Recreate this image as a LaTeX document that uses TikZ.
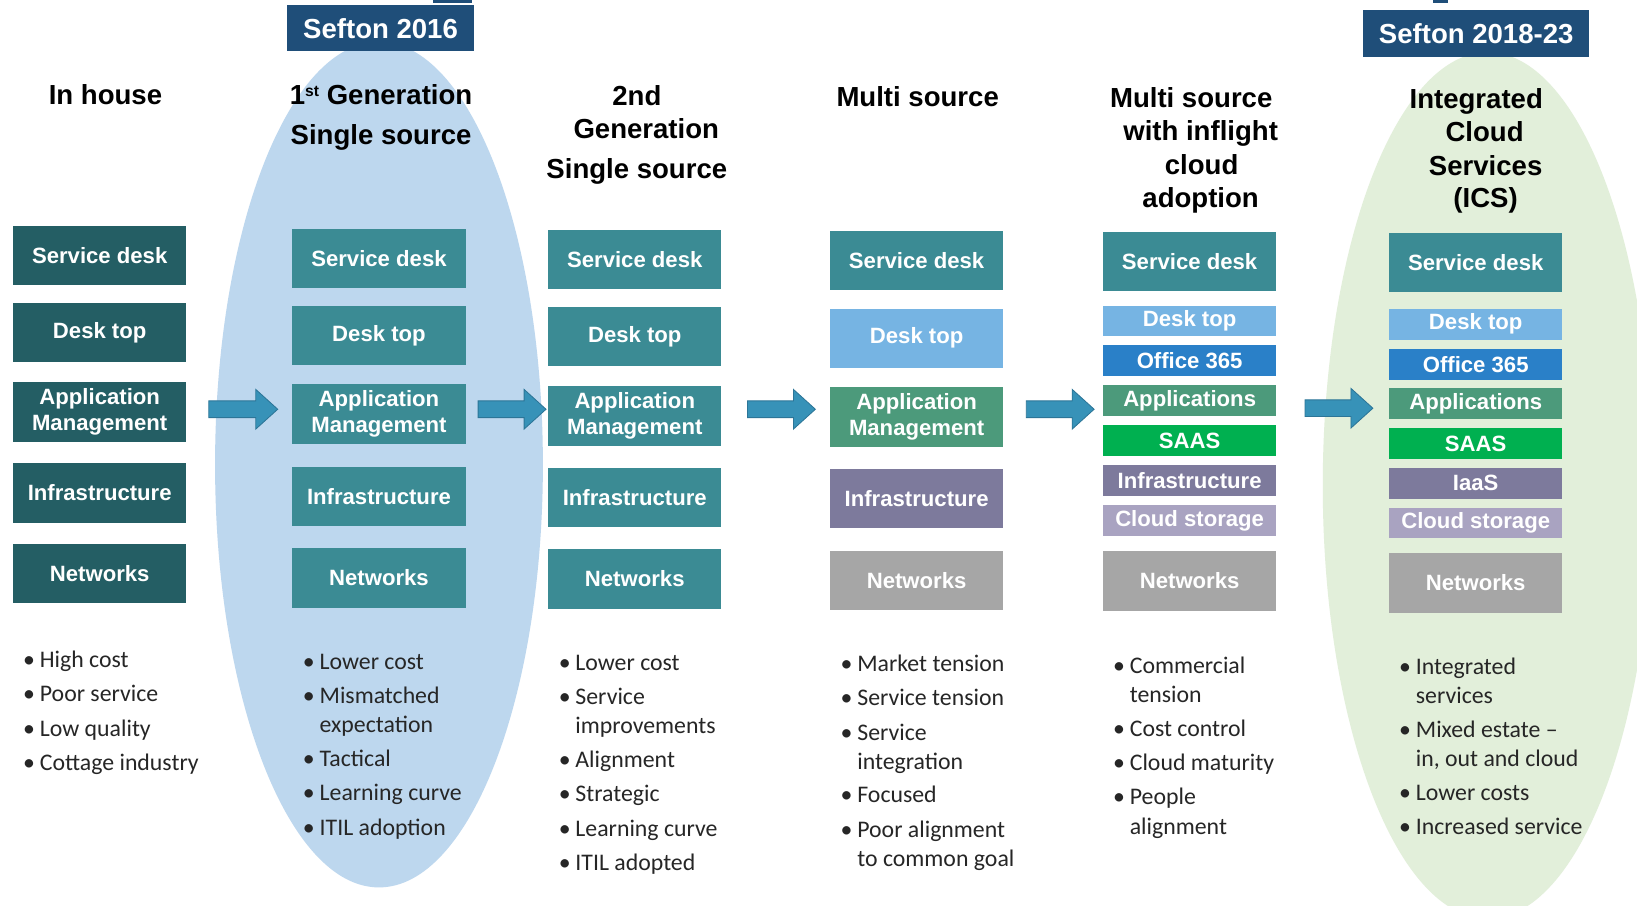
\documentclass[tikz,border=0pt]{standalone}
\usepackage{fontspec}
\setmainfont{Liberation Sans}
\newfontfamily\calfont{Carlito}
\usetikzlibrary{positioning}
\definecolor{bannerc}{HTML}{1F4E79}
\definecolor{dteal}{HTML}{245E64}
\definecolor{teal}{HTML}{3B8B94}
\definecolor{lblue}{HTML}{76B4E3}
\definecolor{oblue}{HTML}{2A80C8}
\definecolor{appg}{HTML}{4C9A7B}
\definecolor{saasg}{HTML}{00B050}
\definecolor{purp}{HTML}{7D7A9C}
\definecolor{lpurp}{HTML}{A9A3C1}
\definecolor{greyc}{HTML}{A6A6A6}
\definecolor{ellb}{HTML}{BDD7EE}
\definecolor{ellg}{HTML}{E2EFDA}
\definecolor{arrc}{HTML}{3792B8}
\definecolor{arrd}{HTML}{2C7597}
\definecolor{bultxt}{HTML}{262626}
\tikzset{
  bx/.style={rectangle, minimum width=166pt, minimum height=57pt, inner sep=0pt,
    text=white, align=center, font=\bfseries\fontsize{21.2}{24}\selectfont},
  sbx/.style={bx, minimum height=29.5pt},
  head/.style={anchor=base, inner sep=0pt, font=\bfseries\fontsize{26.4}{30}\selectfont},
  banner/.style={rectangle, fill=bannerc, text=white, inner sep=0pt,
    font=\bfseries\fontsize{26.4}{30}\selectfont},
  bul/.style={anchor=base west, inner sep=0pt, text=bultxt, font=\calfont\fontsize{22.8}{26}\selectfont},
  blockarr/.style={fill=arrc, draw=arrd, line width=0.8pt}
}
\newcommand\blockarrow[3]{% x0 x1 yc
  \fill[blockarr] (#1,#3-8) -- (#2-21,#3-8) -- (#2-21,#3-19) -- (#2,#3) -- (#2-21,#3+19)
   -- (#2-21,#3+8) -- (#1,#3+8) -- cycle;}
\newcommand\bitem[4]{% bx tx y text
  \node[bul] at (#1,#3+7) {\textbullet};
  \node[bul] at (#2,#3+7) {#4};}
\begin{document}
\begin{tikzpicture}[x=1pt,y=-1pt]
\useasboundingbox[fill=white] (0,0) rectangle (1568,866.9);
% ellipses
\fill[ellb] (363,445) ellipse [x radius=157, y radius=405];
\fill[ellg] (1425,465) ellipse [x radius=158, y radius=415];
% tiny fragments at the top edge
\fill[bannerc] (415,0) rectangle (452,3);
\fill[bannerc] (1373,0) rectangle (1387,2.5);
% banners
\node[banner, minimum width=179pt, minimum height=44pt] (b1) at (364.5,27) {Sefton 2016};
\node[banner, minimum width=216pt, minimum height=45pt] (b2) at (1414,32.5) {Sefton 2018-23};
% headings
\node[head] (h1) at (101,100) {In house};
\node[head] (h2a) at (365,100) {1\raisebox{8pt}{\fontsize{15}{15}\selectfont st} Generation};
\node[head] (h2b) at (365,138) {Single source};
\node[head] (h3a) at (610,101) {2nd};
\node[head] (h3b) at (619,133) {Generation};
\node[head] (h3c) at (610,171) {Single source};
\node[head] (h4) at (879,102) {Multi source};
\node[head] (h5a) at (1141,103) {Multi source};
\node[head] (h5b) at (1150,135) {with inflight};
\node[head] (h5c) at (1151,167) {cloud};
\node[head] (h5d) at (1150,199) {adoption};
\node[head] (h6a) at (1414,104) {Integrated};
\node[head] (h6b) at (1422,136) {Cloud};
\node[head] (h6c) at (1423,168) {Services};
\node[head] (h6d) at (1423,199) {(ICS)};
% column 1
\node[bx, fill=dteal] (a1) at (95.5,244.5) {Service desk};
\node[bx, fill=dteal] (a2) at (95.5,318.5) {Desk top};
\node[bx, fill=dteal] (a3) at (95.5,394.5) {Application\\[1pt]Management};
\node[bx, fill=dteal] (a4) at (95.5,472) {Infrastructure};
\node[bx, fill=dteal] (a5) at (95.5,549.5) {Networks};
% column 2
\node[bx, fill=teal] (b1a) at (363,247.5) {Service desk};
\node[bx, fill=teal] (b2a) at (363,321.5) {Desk top};
\node[bx, fill=teal] (b3a) at (363,396.5) {Application\\[1pt]Management};
\node[bx, fill=teal] (b4a) at (363,475.5) {Infrastructure};
\node[bx, fill=teal] (b5a) at (363,553.5) {Networks};
% column 3
\node[bx, fill=teal] (c1) at (608,248.5) {Service desk};
\node[bx, fill=teal] (c2) at (608,322.5) {Desk top};
\node[bx, fill=teal] (c3) at (608,398.5) {Application\\[1pt]Management};
\node[bx, fill=teal] (c4) at (608,476.5) {Infrastructure};
\node[bx, fill=teal] (c5) at (608,554.5) {Networks};
% column 4
\node[bx, fill=teal] (d1) at (878,249.5) {Service desk};
\node[bx, fill=lblue] (d2) at (878,324) {Desk top};
\node[bx, fill=appg] (d3) at (878,399.5) {Application\\[1pt]Management};
\node[bx, fill=purp] (d4) at (878,477.5) {Infrastructure};
\node[bx, fill=greyc] (d5) at (878,556) {Networks};
% column 5
\node[bx, fill=teal] (e1) at (1139.5,250.5) {Service desk};
\node[sbx, fill=lblue] (e2) at (1139.5,307.5) {Desk top};
\node[sbx, fill=oblue] (e3) at (1139.5,345.5) {Office 365};
\node[sbx, fill=appg] (e4) at (1139.5,383.5) {Applications};
\node[sbx, fill=saasg] (e5) at (1139.5,422) {SAAS};
\node[sbx, fill=purp] (e6) at (1139.5,460.5) {Infrastructure};
\node[sbx, fill=lpurp] (e7) at (1139.5,498.5) {Cloud storage};
\node[bx, fill=greyc] (e8) at (1139.5,556.5) {Networks};
% column 6
\node[bx, fill=teal] (f1) at (1413.5,251.5) {Service desk};
\node[sbx, fill=lblue] (f2) at (1413.5,310.5) {Desk top};
\node[sbx, fill=oblue] (f3) at (1413.5,349) {Office 365};
\node[sbx, fill=appg] (f4) at (1413.5,386.5) {Applications};
\node[sbx, fill=saasg] (f5) at (1413.5,425) {SAAS};
\node[sbx, fill=purp] (f6) at (1413.5,463) {IaaS};
\node[sbx, fill=lpurp] (f7) at (1413.5,501) {Cloud storage};
\node[bx, fill=greyc] (f8) at (1413.5,558.5) {Networks};
% arrows
\blockarrow{200}{266}{392}
\blockarrow{458}{523}{392}
\blockarrow{716}{781}{392}
\blockarrow{983}{1048}{392}
\blockarrow{1250}{1315}{391}
% bullets column 1
\bitem{22}{38}{632}{High cost}
\bitem{22}{38}{665}{Poor service}
\bitem{22}{38}{698}{Low quality}
\bitem{22}{38}{731}{Cottage industry}
% column 2
\bitem{290}{306}{634}{Lower cost}
\bitem{290}{306}{667}{Mismatched}
\node[bul] at (306,702) {expectation};
\bitem{290}{306}{727}{Tactical}
\bitem{290}{306}{760}{Learning curve}
\bitem{290}{306}{793}{ITIL adoption}
% column 3
\bitem{535}{551}{635}{Lower cost}
\bitem{535}{551}{668}{Service}
\node[bul] at (551,703) {improvements};
\bitem{535}{551}{728}{Alignment}
\bitem{535}{551}{761}{Strategic}
\bitem{535}{551}{794}{Learning curve}
\bitem{535}{551}{827}{ITIL adopted}
% column 4
\bitem{805}{821}{636}{Market tension}
\bitem{805}{821}{669}{Service tension}
\bitem{805}{821}{702}{Service}
\node[bul] at (821,737) {integration};
\bitem{805}{821}{762}{Focused}
\bitem{805}{821}{795}{Poor alignment}
\node[bul] at (821,830) {to common goal};
% column 5
\bitem{1066}{1082}{638}{Commercial}
\node[bul] at (1082,673) {tension};
\bitem{1066}{1082}{698}{Cost control}
\bitem{1066}{1082}{731}{Cloud maturity}
\bitem{1066}{1082}{764}{People}
\node[bul] at (1082,799) {alignment};
% column 6
\bitem{1340}{1356}{639}{Integrated}
\node[bul] at (1356,674) {services};
\bitem{1340}{1356}{699}{Mixed estate \textendash}
\node[bul] at (1356,734) {in, out and cloud};
\bitem{1340}{1356}{760}{Lower costs}
\bitem{1340}{1356}{792}{Increased service}
\end{tikzpicture}
\end{document}
